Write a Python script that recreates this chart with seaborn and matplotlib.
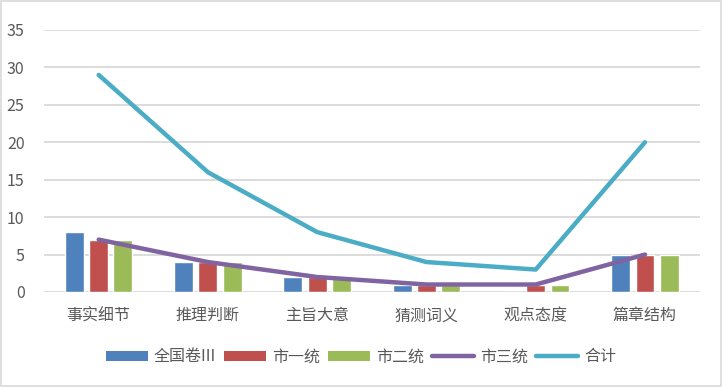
import pandas as pd
import numpy as np
import matplotlib
matplotlib.use("Agg")
import matplotlib.pyplot as plt
import seaborn as sns
from matplotlib.patches import Patch
from matplotlib.lines import Line2D

# ── Data ────────────────────────────────────────────────────────────────────
categories = ["事实细节", "推理判断", "主旨大意", "猜测词义", "观点态度", "篇章结构"]
quanguo = [8, 4, 2, 1, 0, 5]
shi_yi = [7, 4, 2, 1, 1, 5]
shi_er = [7, 4, 2, 1, 1, 5]
shi_san = [7, 4, 2, 1, 1, 5]
heji = [29, 16, 8, 4, 3, 20]

bar_names = ["全国卷III", "市一统", "市二统"]
bar_colors = ["#4F81BD", "#C0504D", "#9BBB59"]
line_colors = {"市三统": "#8064A2", "合计": "#4BACC6"}

# ── Style ───────────────────────────────────────────────────────────────────
sns.set_theme(style="white")
plt.rcParams["font.family"] = ["Noto Sans CJK SC", "DejaVu Sans"]
text_color = "#595959"

df_bars = pd.DataFrame({
    "category": categories * 3,
    "series": sum([[n] * len(categories) for n in bar_names], []),
    "value": quanguo + shi_yi + shi_er,
})

fig = plt.figure(figsize=(7.22, 3.87), dpi=100)
ax = fig.add_axes([0.061, 0.2455, 0.908, 0.677])

sns.barplot(data=df_bars, x="category", y="value", hue="series",
            order=categories, hue_order=bar_names, palette=bar_colors,
            width=0.667, gap=0.22, ax=ax, legend=False, saturation=1)

x = np.arange(len(categories))
sns.lineplot(x=x, y=shi_san, color=line_colors["市三统"], linewidth=3.2, ax=ax)
sns.lineplot(x=x, y=heji, color=line_colors["合计"], linewidth=3.2, ax=ax)

ax.set_xlim(-0.5, len(categories) - 0.5)
ax.set_ylim(0, 35)
ax.set_yticks(range(0, 36, 5))
ax.yaxis.grid(True, color="#D9D9D9", linewidth=1.3)
ax.set_axisbelow(True)
for s in ax.spines.values():
    s.set_visible(False)
ax.set_xlabel("")
ax.set_ylabel("")
ax.set_xticks(x)
ax.set_xticklabels(categories)
ax.tick_params(axis="x", colors=text_color, labelsize=11.5, length=0, pad=11)
ax.tick_params(axis="y", colors=text_color, labelsize=11.5, length=0, pad=14)

# legend
handles = [Patch(facecolor=c, edgecolor="none") for c in bar_colors]
handles += [Line2D([0], [0], color=c, linewidth=3.2) for c in line_colors.values()]
labels = bar_names + list(line_colors.keys())
fig.legend(handles, labels, loc="center", bbox_to_anchor=(0.5, 0.078), ncol=5,
           frameon=False, fontsize=11.5, labelcolor=text_color,
           handlelength=2.6, handleheight=0.6, handletextpad=0.4, columnspacing=0.5)

fig.patches.append(plt.Rectangle((0.002, 0.002), 0.996, 0.996, transform=fig.transFigure,
                                 fill=False, edgecolor="#D9D9D9", linewidth=1.2))

fig.savefig("out.png", dpi=100)
plt.close()
